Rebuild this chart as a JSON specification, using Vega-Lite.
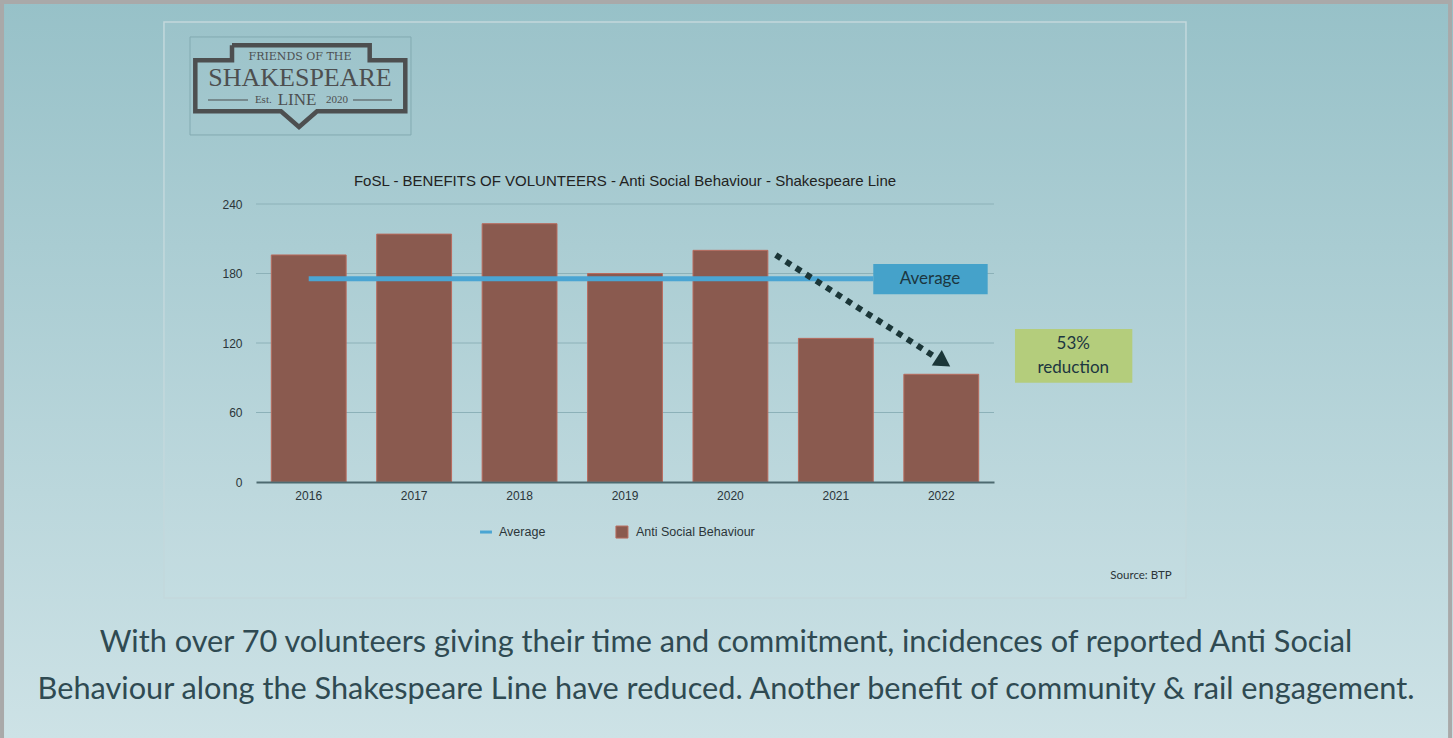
{
  "$schema": "https://vega.github.io/schema/vega-lite/v6.json",
  "width": 738,
  "height": 278,
  "autosize": {"type": "none"},
  "padding": {"left": 256, "top": 204, "right": 459, "bottom": 256},
  "background": "#b3d2d7",
  "config": {"view": {"stroke": null}, "font": "Liberation Sans"},
  "datasets": {
    "bars": [
      {"year": "2016", "value": 196},
      {"year": "2017", "value": 214},
      {"year": "2018", "value": 223},
      {"year": "2019", "value": 180},
      {"year": "2020", "value": 200},
      {"year": "2021", "value": 124},
      {"year": "2022", "value": 93}
    ],
    "bg": [{"ax": -2.43, "ax2": 11.36, "ay": 416.2, "ay2": -221.1}],
    "frame": [{"ax": -2.409, "ax2": 11.326, "ay": 414.4, "ay2": -227}],
    "panel": [{"ax": -0.873, "ax2": 8.821, "ay": 397.1, "ay2": -100.1}],
    "grid": [
      {"ax": 0, "ax2": 7, "ay": 60},
      {"ax": 0, "ax2": 7, "ay": 120},
      {"ax": 0, "ax2": 7, "ay": 180},
      {"ax": 0, "ax2": 7, "ay": 240}
    ],
    "logobox": [{"ax": -0.626, "ax2": 1.47, "ay": 384.2, "ay2": 299.6}],
    "logooutline": [
      {"o": 0, "ax": -0.2276, "ay": 377.0},
      {"o": 1, "ax": 1.0784, "ay": 377.0},
      {"o": 2, "ax": 1.0784, "ay": 364.1},
      {"o": 3, "ax": 1.4161, "ay": 364.1},
      {"o": 4, "ax": 1.4161, "ay": 320.0},
      {"o": 5, "ax": 0.5786, "ay": 320.0},
      {"o": 6, "ax": 0.4079, "ay": 306.5},
      {"o": 7, "ax": 0.2371, "ay": 320.0},
      {"o": 8, "ax": -0.5757, "ay": 320.0},
      {"o": 9, "ax": -0.5757, "ay": 364.1},
      {"o": 10, "ax": -0.2276, "ay": 364.1},
      {"o": 11, "ax": -0.2276, "ay": 377.0}
    ],
    "logo1": [{"ax": 0.4173, "ay": 366.9, "label": "FRIENDS OF THE"}],
    "logo2": [{"ax": 0.4173, "ay": 348.8, "label": "SHAKESPEARE"}],
    "logo3": [{"ax": 0.0692, "ay": 329.8, "label": "Est."}, {"ax": 0.7683, "ay": 329.8, "label": "2020"}],
    "logo4": [{"ax": 0.3889, "ay": 329.8, "label": "LINE"}],
    "logolines": [{"ax": -0.4553, "ax2": -0.0759, "ay": 329.8}, {"ax": 0.92, "ax2": 1.29, "ay": 329.8}],
    "avgline": [{"ax": 0.5, "ax2": 5.855, "ay": 175.5}],
    "avgbox": [{"ax": 5.855, "ax2": 6.94, "ay": 188.2, "ay2": 162.0}],
    "avgtext": [{"ax": 6.393, "ay": 175.3, "label": "Average"}],
    "redbox": [{"ax": 7.199, "ax2": 8.312, "ay": 132.1, "ay2": 85.7}],
    "redtext": [{"ax": 7.752, "ay": 119.3, "label": "53%"}, {"ax": 7.752, "ay": 98.7, "label": "reduction"}],
    "arrow": [{"o": 0, "ax": 4.93, "ay": 196.0}, {"o": 1, "ax": 6.45, "ay": 107.5}],
    "arrowhead": [{"ax": 6.521, "ay": 103.5}],
    "title": [{"ax": 3.5, "ay": 259.9, "label": "FoSL - BENEFITS OF VOLUNTEERS - Anti Social Behaviour - Shakespeare Line"}],
    "legdash": [{"ax": 2.125, "ax2": 2.238, "ay": -43.2}],
    "legsq": [{"ax": 3.471, "ay": -43.2}],
    "legtext": [{"ax": 2.305, "ay": -43.2, "label": "Average"}, {"ax": 3.604, "ay": -43.2, "label": "Anti Social Behaviour"}],
    "source": [{"ax": 8.685, "ay": -80.9, "label": "Source: BTP"}],
    "caption": [
      {"ax": 4.458, "ay": -146.8, "label": "With over 70 volunteers giving their time and commitment, incidences of reported Anti Social"},
      {"ax": 4.458, "ay": -187.3, "label": "Behaviour along the Shakespeare Line have reduced. Another benefit of community & rail engagement."}
    ]
  },
  "layer": [
    {
      "encoding": {
        "x": {"field": "ax", "type": "quantitative", "scale": {"domain": [0, 7], "nice": false, "zero": false}, "axis": null},
        "y": {"field": "ay", "type": "quantitative", "scale": {"domain": [0, 240], "nice": false, "zero": false}, "axis": null}
      },
      "layer": [
        {
          "data": {"name": "bg"},
          "mark": {"type": "rect", "fill": {"gradient": "linear", "x1": 0, "y1": 0, "x2": 0, "y2": 1, "stops": [{"offset": 0, "color": "#97c1c8"}, {"offset": 1, "color": "#cde2e6"}]}},
          "encoding": {"x2": {"field": "ax2"}, "y2": {"field": "ay2"}}
        },
        {
          "data": {"name": "frame"},
          "mark": {"type": "rect", "fillOpacity": 0, "stroke": "#a9a9a9", "strokeWidth": 4},
          "encoding": {"x2": {"field": "ax2"}, "y2": {"field": "ay2"}}
        },
        {
          "data": {"name": "panel"},
          "mark": {"type": "rect", "fill": "#ffffff", "fillOpacity": 0.03, "stroke": "#c3d8dc", "strokeWidth": 1.5},
          "encoding": {"x2": {"field": "ax2"}, "y2": {"field": "ay2"}}
        },
        {
          "data": {"name": "grid"},
          "mark": {"type": "rule", "stroke": "#8cb1b8", "strokeWidth": 1},
          "encoding": {"x2": {"field": "ax2"}}
        },
        {
          "data": {"name": "logobox"},
          "mark": {"type": "rect", "fillOpacity": 0, "stroke": "#82aab1", "strokeWidth": 1},
          "encoding": {"x2": {"field": "ax2"}, "y2": {"field": "ay2"}}
        },
        {
          "data": {"name": "logooutline"},
          "mark": {"type": "line", "stroke": "#4d4f50", "strokeWidth": 4.5, "strokeJoin": "miter"},
          "encoding": {"order": {"field": "o", "type": "quantitative"}}
        },
        {
          "data": {"name": "logolines"},
          "mark": {"type": "rule", "stroke": "#4d4f50", "strokeWidth": 1.2},
          "encoding": {"x2": {"field": "ax2"}}
        },
        {
          "data": {"name": "logo1"},
          "mark": {"type": "text", "font": "DejaVu Serif", "fontSize": 11, "color": "#4d4f50", "baseline": "middle", "align": "center"},
          "encoding": {"text": {"field": "label"}}
        },
        {
          "data": {"name": "logo2"},
          "mark": {"type": "text", "font": "Liberation Serif", "fontSize": 26, "color": "#4d4f50", "baseline": "middle", "align": "center"},
          "encoding": {"text": {"field": "label"}}
        },
        {
          "data": {"name": "logo3"},
          "mark": {"type": "text", "font": "Liberation Serif", "fontSize": 11, "color": "#4d4f50", "baseline": "middle", "align": "center"},
          "encoding": {"text": {"field": "label"}}
        },
        {
          "data": {"name": "logo4"},
          "mark": {"type": "text", "font": "Liberation Serif", "fontSize": 17, "color": "#4d4f50", "baseline": "middle", "align": "center"},
          "encoding": {"text": {"field": "label"}}
        }
      ]
    },
    {
      "data": {"name": "bars"},
      "mark": {"type": "bar", "fill": "#8a5a4f", "stroke": "#b86b5e", "strokeWidth": 1},
      "encoding": {
        "x": {
          "field": "year", "type": "ordinal",
          "scale": {"paddingInner": 0.29, "paddingOuter": 0.145},
          "axis": {"title": null, "labelAngle": 0, "ticks": false, "labelPadding": 8, "domainColor": "#4d6a70", "domainWidth": 2, "labelFontSize": 12, "labelColor": "#2b3539", "zindex": 1, "grid": false}
        },
        "y": {
          "field": "value", "type": "quantitative",
          "scale": {"domain": [0, 240], "nice": false},
          "axis": {"title": null, "orient": "left", "values": [0, 60, 120, 180, 240], "domain": false, "ticks": false, "grid": false, "labelPadding": 14, "labelFontSize": 12, "labelColor": "#2b3539", "zindex": 1}
        }
      }
    },
    {
      "encoding": {
        "x": {"field": "ax", "type": "quantitative", "scale": {"domain": [0, 7], "nice": false, "zero": false}, "axis": null},
        "y": {"field": "ay", "type": "quantitative", "scale": {"domain": [0, 240], "nice": false, "zero": false}, "axis": null}
      },
      "layer": [
        {
          "data": {"name": "avgline"},
          "mark": {"type": "rule", "stroke": "#4aa5d3", "strokeWidth": 5},
          "encoding": {"x2": {"field": "ax2"}}
        },
        {
          "data": {"name": "avgbox"},
          "mark": {"type": "rect", "fill": "#45a2ca"},
          "encoding": {"x2": {"field": "ax2"}, "y2": {"field": "ay2"}}
        },
        {
          "data": {"name": "avgtext"},
          "mark": {"type": "text", "font": "Lato", "fontSize": 17, "color": "#1c3640", "baseline": "middle", "align": "center"},
          "encoding": {"text": {"field": "label"}}
        },
        {
          "data": {"name": "redbox"},
          "mark": {"type": "rect", "fill": "#b4cd7c"},
          "encoding": {"x2": {"field": "ax2"}, "y2": {"field": "ay2"}}
        },
        {
          "data": {"name": "redtext"},
          "mark": {"type": "text", "font": "Lato", "fontSize": 17, "color": "#1c3640", "baseline": "middle", "align": "center"},
          "encoding": {"text": {"field": "label"}}
        },
        {
          "data": {"name": "arrow"},
          "mark": {"type": "line", "stroke": "#1b3638", "strokeWidth": 6, "strokeDash": [6, 6], "strokeCap": "butt"},
          "encoding": {"order": {"field": "o", "type": "quantitative"}}
        },
        {
          "data": {"name": "arrowhead"},
          "mark": {"type": "point", "shape": "triangle-right", "size": 340, "angle": 33, "filled": true, "fill": "#1b3638", "opacity": 1}
        },
        {
          "data": {"name": "title"},
          "mark": {"type": "text", "font": "Liberation Sans", "fontSize": 15, "color": "#222222", "baseline": "middle", "align": "center"},
          "encoding": {"text": {"field": "label"}}
        },
        {
          "data": {"name": "legdash"},
          "mark": {"type": "rule", "stroke": "#4aa5d3", "strokeWidth": 3},
          "encoding": {"x2": {"field": "ax2"}}
        },
        {
          "data": {"name": "legsq"},
          "mark": {"type": "point", "shape": "square", "size": 144, "filled": true, "fill": "#8a5a4f", "stroke": "#b86b5e", "strokeWidth": 1, "opacity": 1}
        },
        {
          "data": {"name": "legtext"},
          "mark": {"type": "text", "font": "Liberation Sans", "fontSize": 12.5, "color": "#2b3539", "baseline": "middle", "align": "left"},
          "encoding": {"text": {"field": "label"}}
        },
        {
          "data": {"name": "source"},
          "mark": {"type": "text", "font": "Lato", "fontSize": 11.5, "color": "#2b3539", "baseline": "middle", "align": "right"},
          "encoding": {"text": {"field": "label"}}
        },
        {
          "data": {"name": "caption"},
          "mark": {"type": "text", "font": "Lato", "fontSize": 30.7, "color": "#2f4a52", "baseline": "alphabetic", "align": "center"},
          "encoding": {"text": {"field": "label"}}
        }
      ]
    }
  ],
  "resolve": {"scale": {"x": "independent", "y": "independent"}}
}
